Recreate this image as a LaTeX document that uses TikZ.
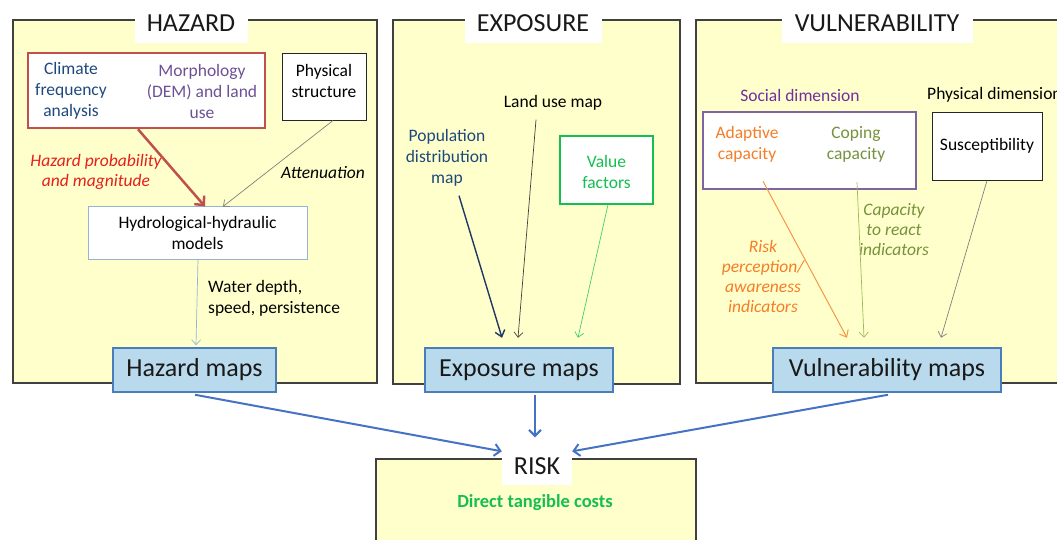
\documentclass[tikz,border=0pt]{standalone}
\usepackage{fontspec}
\setmainfont{Carlito}
\usetikzlibrary{arrows.meta}
\definecolor{panel}{RGB}{255,255,204}
\definecolor{pborder}{RGB}{64,64,64}
\definecolor{redbox}{RGB}{192,80,77}
\definecolor{redtxt}{RGB}{230,30,30}
\definecolor{navytxt}{RGB}{31,73,125}
\definecolor{navyarr}{RGB}{31,56,100}
\definecolor{morph}{RGB}{110,80,150}
\definecolor{greentxt}{RGB}{20,190,80}
\definecolor{greenarr}{RGB}{70,205,110}
\definecolor{purpletxt}{RGB}{112,48,160}
\definecolor{purplebox}{RGB}{128,100,162}
\definecolor{orangetxt}{RGB}{245,125,40}
\definecolor{orangearr}{RGB}{247,150,70}
\definecolor{olivetxt}{RGB}{118,146,60}
\definecolor{olivearr}{RGB}{155,187,89}
\definecolor{grayarr}{RGB}{128,128,128}
\definecolor{hydroborder}{RGB}{149,179,215}
\definecolor{mapfill}{RGB}{185,218,236}
\definecolor{mapborder}{RGB}{74,126,187}
\definecolor{bluearr}{RGB}{68,114,196}
\tikzset{
  panelbox/.style={draw=pborder, line width=2pt, fill=panel, inner sep=0pt, anchor=north west},
  titlebox/.style={fill=white, inner sep=0pt, font=\fontsize{26}{30}\selectfont, text=black!90},
  txt/.style={inner sep=0pt, align=center, font=\fontsize{17.5}{21}\selectfont},
  itxt/.style={inner sep=0pt, align=center, font=\fontsize{17.5}{20}\selectfont\itshape},
  whitebox/.style={fill=white, inner sep=0pt},
  mapbox/.style={draw=mapborder, line width=2.5pt, fill=mapfill, inner sep=0pt,
    minimum height=44pt, font=\fontsize{26}{30}\selectfont, text=black!90},
  thinarrow/.style={line width=0.7pt, -{Straight Barb[length=5pt,width=9pt]}},
  bigarrow/.style={line width=2pt, draw=bluearr, -{Straight Barb[length=6pt,width=12pt]}},
}
\begin{document}
\begin{tikzpicture}[x=1pt,y=-1pt]
\path[use as bounding box] (0,0) rectangle (1057,539);
\clip (0,0) rectangle (1057,539);

% panels
\node[panelbox, minimum width=364pt, minimum height=363pt] (hzp) at (12,19) {};
\node[panelbox, minimum width=287pt, minimum height=364pt] (exp) at (392,19) {};
\node[panelbox, minimum width=380pt, minimum height=363pt] (vup) at (695,19) {};
\node[panelbox, minimum width=320pt, minimum height=110pt] (rkp) at (375,458) {};

% titles
\node[titlebox, minimum width=113pt, minimum height=40pt] (hzt) at (191,23) {HAZARD};
\node[titlebox, minimum width=137pt, minimum height=40pt] (ext) at (533,23) {EXPOSURE};
\node[titlebox, minimum width=191pt, minimum height=40pt] (vut) at (877,23) {VULNERABILITY};
\node[titlebox, minimum width=70pt, minimum height=37pt] (rkt) at (537,466) {RISK};

% ---------- HAZARD ----------
\node[whitebox, draw=redbox, line width=2.5pt, minimum width=237pt, minimum height=75pt] (rb) at (146.5,90.5) {};
\node[txt, text=navytxt] (clim) at (71,91) {Climate\\frequency\\analysis};
\node[txt, text=morph] (morph) at (202,91) {Morphology\\(DEM) and land\\use};
\node[whitebox, draw=black!85, line width=1pt, minimum width=84pt, minimum height=67pt] (ps) at (324,86.5) {};
\node[txt, text=black] (pst) at (324,81) {Physical\\structure};
\node[whitebox, draw=hydroborder, line width=1pt, minimum width=219pt, minimum height=53pt, txt, fill=white] (hy) at (197.5,232.5) {Hydrological-hydraulic\\models};
\node[itxt, text=redtxt] (hpl) at (96,172) {Hazard probability\\and magnitude};
\node[itxt, text=black] (att) at (323,173) {Attenuation};
\node[txt, align=left, anchor=west, text=black] (wd) at (208,298) {Water depth,\\speed, persistence};

\draw[line width=2.5pt, draw=redbox, -{Straight Barb[length=7pt,width=13pt]}]
  ([xshift=-8.5pt]rb.south) -- ([xshift=7.5pt,yshift=-1pt]hy.north);
\draw[thinarrow, draw=grayarr] ([xshift=9pt]ps.south) -- ([xshift=25.5pt,yshift=-1pt]hy.north);

% ---------- EXPOSURE ----------
\node[txt, text=black] (land) at (553,103) {Land use map};
\node[txt, text=navytxt] (pop) at (447,158) {Population\\distribution\\map};
\node[whitebox, draw=greentxt, line width=1.2pt, minimum width=93pt, minimum height=68pt] (vf) at (606.5,170) {};
\node[txt, text=greentxt] (vft) at (606.5,172) {Value\\factors};

% ---------- VULNERABILITY ----------
\node[txt, text=purpletxt] (soc) at (800,95) {Social dimension};
\node[txt, text=black, anchor=west] (phd) at (927,95) {Physical dimension};
\node[whitebox, draw=purplebox, line width=2.5pt, minimum width=213pt, minimum height=77pt] (pb) at (809.5,150.5) {};
\node[txt, text=orangetxt] (ad) at (747,144.5) {Adaptive\\capacity};
\node[txt, text=olivetxt] (cp) at (856,144.5) {Coping\\capacity};
\node[whitebox, draw=black!85, line width=1pt, minimum width=110pt, minimum height=68pt, txt] (sus) at (987,146) {Susceptibility};
\node[itxt, text=orangetxt] (rpl) at (763,276.5) {Risk\\perception/\\awareness\\indicators};
\node[itxt, text=olivetxt] (crl) at (894,229.5) {Capacity\\to react\\indicators};

% ---------- maps ----------
\node[mapbox, minimum width=163pt] (hm) at (194.5,370) {Hazard maps};
\node[mapbox, minimum width=188pt] (em) at (519,370) {Exposure maps};
\node[mapbox, minimum width=228pt] (vm) at (887,370) {Vulnerability maps};

% inner connectors
\draw[thinarrow, draw=hydroborder] ([xshift=0.5pt]hy.south) -- ([xshift=1.5pt,yshift=1.5pt]hm.north);
\draw[line width=1.4pt, draw=navyarr, -{Straight Barb[length=6pt,width=10pt]}]
  ([xshift=12pt,yshift=-9pt]pop.south) -- ([xshift=-17pt,yshift=9pt]em.north);
\draw[thinarrow, draw=pborder] ([xshift=-17pt,yshift=-9pt]land.south) -- ([xshift=-1pt,yshift=9pt]em.north);
\draw[thinarrow, draw=greenarr] ([xshift=1.5pt]vf.south) -- ([xshift=59pt,yshift=9pt]em.north);
\draw[line width=1pt, draw=orangearr, -{Straight Barb[length=6pt,width=10pt]}]
  ([xshift=-46.5pt,yshift=9pt]pb.south) -- ([xshift=-40pt,yshift=9pt]vm.north);
\draw[thinarrow, draw=olivearr] ([xshift=47.5pt,yshift=8pt]pb.south) -- ([xshift=-23pt,yshift=9pt]vm.north);
\draw[thinarrow, draw=grayarr] (sus.south) -- ([xshift=54pt,yshift=9pt]vm.north);

% ---------- RISK ----------
\node[inner sep=0pt, font=\fontsize{18.5}{22}\selectfont\bfseries, text=greentxt] (dtc) at (535,503) {Direct tangible costs};
\draw[bigarrow] ([xshift=0.5pt,yshift=-1.5pt]hm.south) -- ([yshift=-4pt]rkt.north west);
\draw[bigarrow] ([xshift=16pt,yshift=-1.5pt]em.south) -- ([xshift=-2pt,yshift=10pt]rkt.north);
\draw[bigarrow] ([xshift=1pt,yshift=-1.5pt]vm.south) -- ([yshift=-4pt]rkt.north east);
\end{tikzpicture}
\end{document}
